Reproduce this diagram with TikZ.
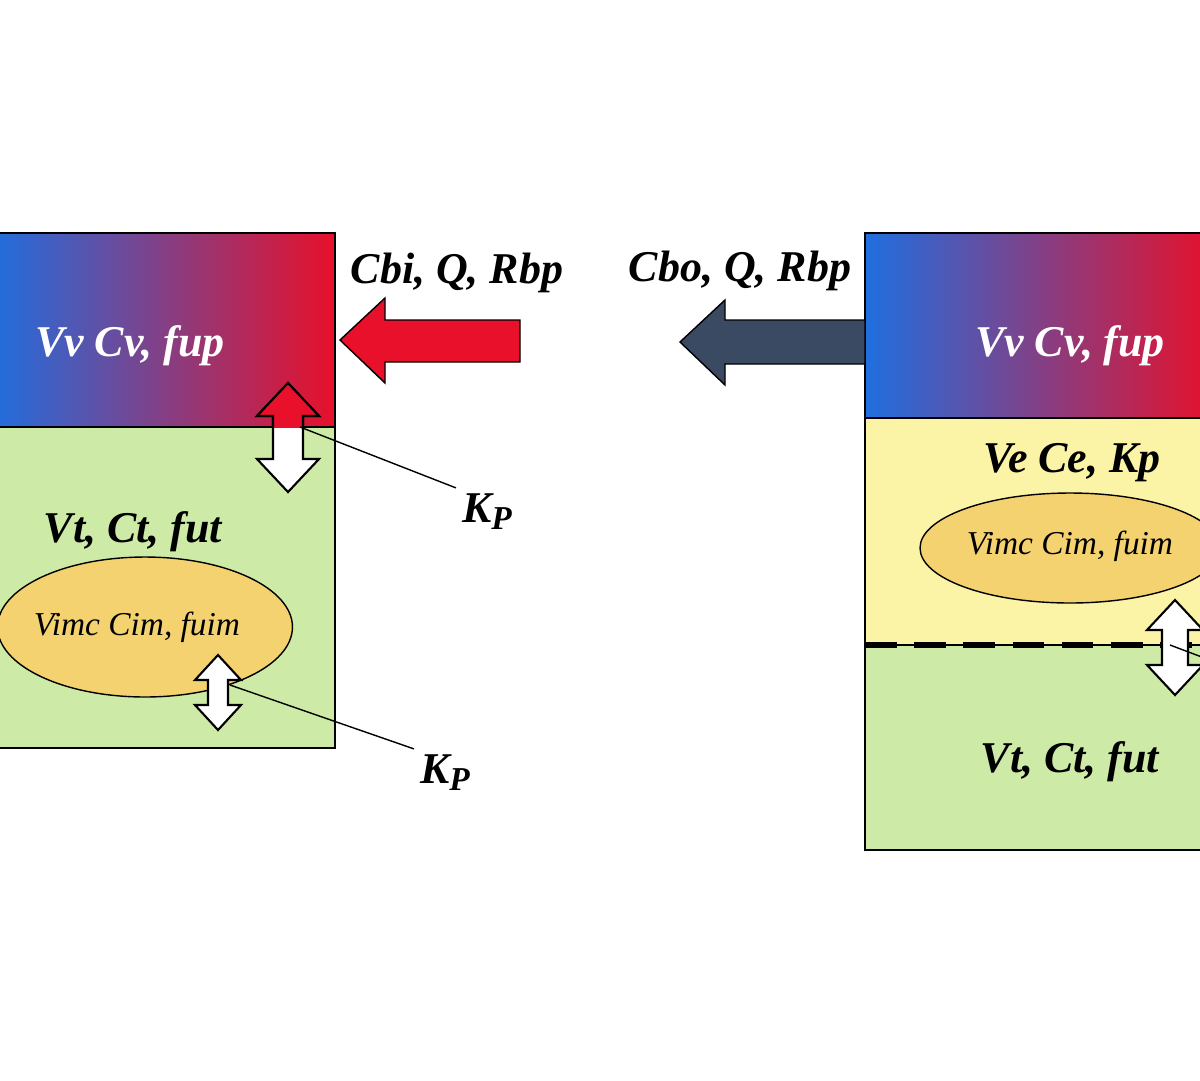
\documentclass[tikz,border=0pt]{standalone}
\usepackage{fontspec}
\setmainfont{Liberation Serif}
\usetikzlibrary{shapes.geometric,calc}
\definecolor{vblue}{HTML}{1F6FE0}
\definecolor{vpurple}{HTML}{7A22B0}
\definecolor{vred}{HTML}{E8102A}
\definecolor{tgreen}{HTML}{CDEBA6}
\definecolor{eyellow}{HTML}{FBF3A6}
\definecolor{imcorange}{HTML}{F5D270}
\definecolor{slate}{HTML}{3B4A63}
\tikzstyle{Vessel} = [draw=black, thick, left color=vblue, middle color=vpurple, right color=vred]
\tikzstyle{Tissue} = [draw=black, thick, fill=tgreen]
\tikzstyle{Imc} = [ellipse, draw=black, thick, fill=imcorange]
\tikzstyle{Flow} = [draw=black, thick]
\tikzstyle{Swap} = [draw=black, very thick, fill=white]
\tikzstyle{Label} = [font=\itshape\bfseries\fontsize{25}{28}\selectfont]
\newcommand{\KP}{K\raisebox{-0.35ex}{\fontsize{19}{20}\selectfont P}}
% vertical double arrow: centre x, top y, bottom y, head half width, shaft half width, head length
\newcommand{\swappath}[6]{(#1,#2) -- (#1+#4,#2+#6) -- (#1+#5,#2+#6) -- (#1+#5,#3-#6) -- (#1+#4,#3-#6) -- (#1,#3) -- (#1-#4,#3-#6) -- (#1-#5,#3-#6) -- (#1-#5,#2+#6) -- (#1-#4,#2+#6) -- cycle}
\begin{document}
\begin{tikzpicture}[x=0.02cm, y=-0.02cm]
\useasboundingbox[fill=white] (0,0) rectangle (1200,1080);

% left compartments
\draw[Tissue] (-10,427) rectangle (335,748);
\draw[Vessel] (-10,233) rectangle (335,427);
\node (Imc Left)[Imc, minimum width=5.9cm, minimum height=2.8cm] at (145,627) {};
\node (Vv Left)[Label, text=white] at (130,346) {Vv Cv,\ fup};
\node (Vt Left)[Label] at (133,532) {Vt, Ct, fut};
\node (Vimc Left)[font=\itshape\fontsize{19}{22}\selectfont] at (137,627) {Vimc Cim,\ fuim};

% right compartments
\draw[Tissue] (865,645) rectangle (1215,850);
\draw[draw=black, thick, fill=eyellow] (865,418) rectangle (1215,645);
\draw[Vessel] (865,233) rectangle (1215,418);
\draw[line width=3pt, dash pattern=on 18pt off 10pt] (865,645) -- (1200,645);
\node (Imc Right)[Imc, minimum width=6cm, minimum height=2.2cm] at (1070,548) {};
\node (Vv Right)[Label, text=white] at (1070,346) {Vv Cv,\ fup};
\node (Ve Right)[Label] at (1072,463) {Ve Ce, Kp};
\node (Vt Right)[Label] at (1070,762) {Vt, Ct, fut};
\node (Vimc Right)[font=\itshape\fontsize{19}{22}\selectfont] at (1070,546) {Vimc Cim,\ fuim};

% flows
\draw[Flow, fill=vred] (340,340) -- (385,298) -- (385,320) -- (520,320) -- (520,362) -- (385,362) -- (385,383) -- cycle;
\draw[Flow, fill=slate] (680,342) -- (725,300) -- (725,320) -- (865,320) -- (865,364) -- (725,364) -- (725,385) -- cycle;
\node (Cbi)[Label] at (457,273) {Cbi, Q, Rbp};
\node (Cbo)[Label] at (740,271) {Cbo, Q, Rbp};

% exchange arrows
\draw[Swap] \swappath{288}{383}{492}{31}{15}{33};
\begin{scope}
\clip (250,370) rectangle (330,427);
\fill[vred] \swappath{288}{383}{492}{31}{15}{33};
\draw[draw=black, very thick] \swappath{288}{383}{492}{31}{15}{33};
\end{scope}
\draw[Swap] \swappath{218}{655}{730}{23}{10}{25};
\draw[Swap] \swappath{1175}{600}{695}{28}{13}{30};
\coordinate (Swap Top) at (300,427);
\coordinate (Swap Imc) at (230,685);
\coordinate (Swap Right) at (1170,645);

\node (Kp Top)[Label] at (487,512) {\KP};
\node (Kp Imc)[Label] at (445,773) {\KP};
\coordinate (Kp Right) at (1215,662);
\draw[thick] (Swap Top) -- (Kp Top.north west);
\draw[thick] (Swap Imc) -- (Kp Imc.north west);
\draw[thick] (Swap Right) -- (Kp Right);
\end{tikzpicture}
\end{document}
